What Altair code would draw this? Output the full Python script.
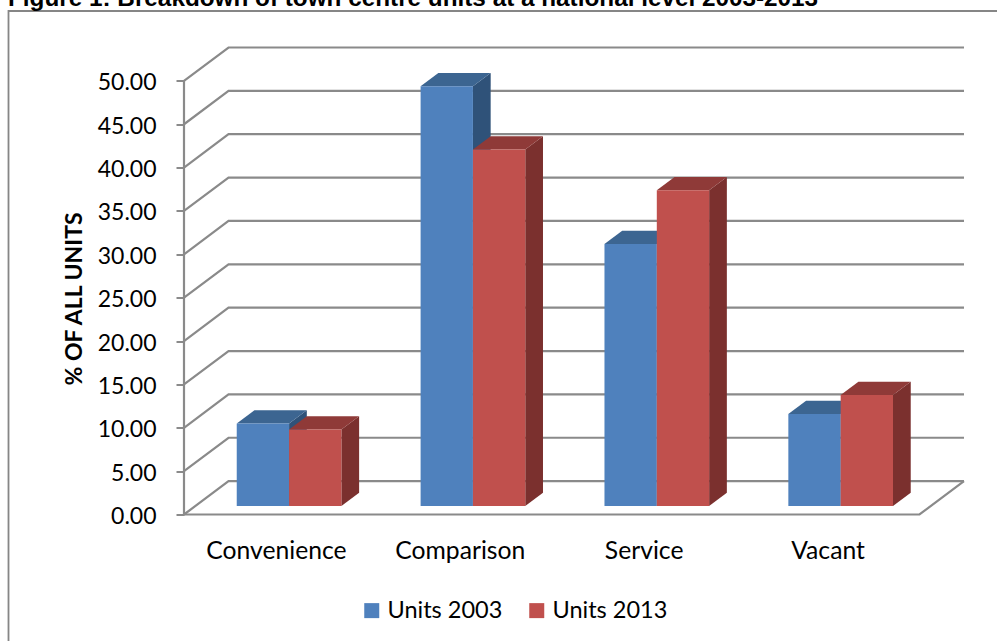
import json

import altair as alt
import pandas as pd

categories = ["Convenience", "Comparison", "Service", "Vacant"]
units_2003 = [9.5, 48.4, 30.2, 10.6]
units_2013 = [8.8, 41.1, 36.4, 12.8]
y_ticks = [0, 5, 10, 15, 20, 25, 30, 35, 40, 45, 50]
series_names = ["Units 2003", "Units 2013"]
front_colors = ["#4F81BD", "#C0504D"]
top_colors = ["#3C6591", "#8F3A38"]
side_colors = ["#2F5279", "#7B302E"]

# Oblique projection of the box: how far one full unit of depth moves a point
# along the x scale (in categories) and the y scale (in percent).
DEPTH_X = 0.2422
DEPTH_Y = 3.85
BAR_DEPTH_FRONT = 0.257
BAR_DEPTH_BACK = 0.655
BAR_START = 0.2246
BAR_WIDTH = 0.2846
GRID = "#8A8A8A"

X_MAX = len(categories) + DEPTH_X
Y_MAX = 50 + DEPTH_Y


def wall_rows():
    rows = []
    for v in y_ticks:
        rows += [
            {"path": f"g{v}", "step": 0, "x": 0, "y": v},
            {"path": f"g{v}", "step": 1, "x": DEPTH_X, "y": v + DEPTH_Y},
            {"path": f"g{v}", "step": 2, "x": X_MAX, "y": v + DEPTH_Y},
        ]
    rows += [
        {"path": "floor", "step": 0, "x": 0, "y": 0},
        {"path": "floor", "step": 1, "x": len(categories), "y": 0},
        {"path": "floor", "step": 2, "x": X_MAX, "y": DEPTH_Y},
        {"path": "axis", "step": 0, "x": 0, "y": 0},
        {"path": "axis", "step": 1, "x": 0, "y": 50},
    ]
    return pd.DataFrame(rows)


def bar_geometry(values, series_index):
    front, top, side = [], [], []
    fx = BAR_DEPTH_FRONT * DEPTH_X
    fy = BAR_DEPTH_FRONT * DEPTH_Y
    bx = BAR_DEPTH_BACK * DEPTH_X
    by = BAR_DEPTH_BACK * DEPTH_Y
    name = series_names[series_index]
    for i, (cat, v) in enumerate(zip(categories, values)):
        left = i + BAR_START + series_index * BAR_WIDTH + fx
        right = left + BAR_WIDTH
        front.append({"category": cat, "series": name, "x": left, "x2": right,
                      "y": fy, "y2": v + fy})
        ddx, ddy = bx - fx, by - fy
        top += [
            {"category": cat, "y": v + fy, "x": left, "x2": right},
            {"category": cat, "y": v + fy + ddy, "x": left + ddx, "x2": right + ddx},
        ]
        side += [
            {"category": cat, "x": right, "y": fy, "y2": v + fy},
            {"category": cat, "x": right + ddx, "y": fy + ddy, "y2": v + fy + ddy},
        ]
    return pd.DataFrame(front), pd.DataFrame(top), pd.DataFrame(side)


x_scale = alt.Scale(domain=[0, X_MAX], nice=False, zero=False)
y_scale = alt.Scale(domain=[0, Y_MAX], nice=False, zero=False)
label_expr = f"{json.dumps(categories)}[floor(datum.value)]"

x_axis = alt.Axis(
    values=[i + 0.5 for i in range(len(categories))],
    labelExpr=label_expr,
    domain=False,
    ticks=False,
    grid=False,
    title=None,
    labelFont="Lato",
    labelFontSize=24.7,
    labelColor="#000000",
    labelPadding=24,
    labelOverlap=False,
)
y_axis = alt.Axis(
    values=y_ticks,
    format=".2f",
    domain=False,
    grid=False,
    tickColor=GRID,
    tickWidth=2,
    tickSize=8,
    labelFont="Lato",
    labelFontSize=23,
    labelColor="#000000",
    labelPadding=20,
    labelOffset=2,
    title="% OF ALL UNITS",
    titleFont="Lato",
    titleFontSize=23,
    titleFontWeight="bold",
    titleColor="#000000",
    titleX=-98,
    titleY=251,
)

# Chart border: only its top and left edges fall inside the page.
frame = alt.Chart(pd.DataFrame({"k": [0]})).mark_rect(
    filled=False, stroke="#868686", strokeWidth=1.8
).encode(
    x=alt.value(-175.5), x2=alt.value(840), y=alt.value(-36.5), y2=alt.value(640)
)

walls = alt.Chart(wall_rows()).mark_line(color=GRID, strokeWidth=2.2, clip=False).encode(
    x=alt.X("x:Q", scale=x_scale, axis=x_axis),
    y=alt.Y("y:Q", scale=y_scale, axis=y_axis),
    detail="path:N",
    order="step:Q",
)

layers = [frame, walls]
for s, values in enumerate([units_2003, units_2013]):
    front, top, side = bar_geometry(values, s)
    layers.append(
        alt.Chart(side).mark_area(color=side_colors[s]).encode(
            x=alt.X("x:Q", scale=x_scale), y=alt.Y("y:Q", scale=y_scale), y2="y2:Q",
            detail="category:N",
        )
    )
    layers.append(
        alt.Chart(top).mark_area(color=top_colors[s], orient="horizontal").encode(
            y=alt.Y("y:Q", scale=y_scale), x=alt.X("x:Q", scale=x_scale), x2="x2:Q",
            detail="category:N",
        )
    )
    layers.append(
        alt.Chart(front).mark_rect().encode(
            x=alt.X("x:Q", scale=x_scale), x2="x2:Q",
            y=alt.Y("y:Q", scale=y_scale), y2="y2:Q",
            color=alt.Color(
                "series:N",
                scale=alt.Scale(domain=series_names, range=front_colors),
                legend=alt.Legend(
                    orient="none",
                    legendX=176,
                    legendY=551,
                    direction="horizontal",
                    title=None,
                    symbolType="square",
                    symbolSize=225,
                    symbolStrokeWidth=0,
                    labelFont="Lato",
                    labelFontSize=23.5,
                    labelColor="#000000",
                    columnPadding=22,
                ),
            ),
        )
    )

chart = (
    alt.layer(*layers)
    .properties(
        width=780,
        height=467,
        padding={"left": 184, "top": 47.5, "right": 33, "bottom": 126.5},
        autosize=alt.AutoSizeParams(type="none"),
        title=alt.TitleParams(
            "Figure 1:  Breakdown of town centre units at a national level 2003-2013",
            anchor="start",
            frame="group",
            font="Liberation Sans",
            fontSize=24.3,
            fontWeight="bold",
            color="#000000",
            dx=-176,
            dy=5,
        ),
    )
    .configure_view(stroke=None)
)

chart.save("out.html", embed_options={"renderer": "svg", "actions": False})
